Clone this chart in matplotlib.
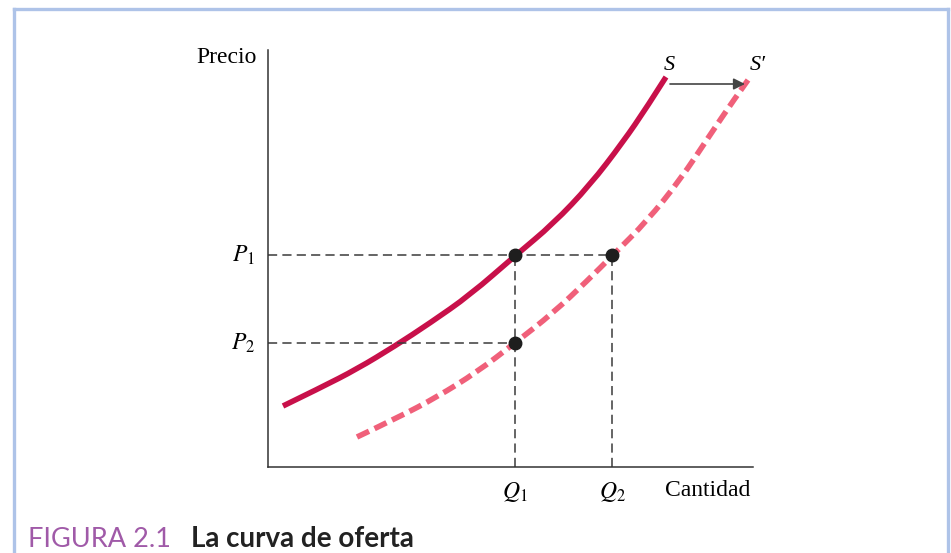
import matplotlib
matplotlib.use('Agg')
import matplotlib.pyplot as plt
from matplotlib.lines import Line2D
from matplotlib.path import Path
from matplotlib.patches import PathPatch

# Curve S (original supply)
s_q = [15, 52, 89, 127, 162, 202, 248, 285, 322, 355, 379, 398]
s_p = [61, 79, 98, 121, 144, 172, 212, 243, 282, 325, 360, 390]

# Curve S' (shifted supply)
s2_q = [89, 129, 169, 209, 247, 285, 319, 345, 379, 412, 442, 465, 480]
s2_p = [30, 49, 70, 95, 124, 154, 186, 212, 246, 287, 332, 366, 387]

# Equilibrium levels
p_levels = [212, 124]
p_labels = ['$P_1$', '$P_2$']
q_levels = [247, 344]
q_labels = ['$Q_1$', '$Q_2$']

# Intersection points (q, p)
dots_q = [247, 344, 247]
dots_p = [212, 212, 124]


def smooth_path(xs, ys):
    # quadratic bezier through the midpoints, read points act as control points
    pts = list(zip(xs, ys))
    verts = [pts[0]]
    codes = [Path.MOVETO]
    for i in range(1, len(pts) - 1):
        mid = ((pts[i][0] + pts[i + 1][0]) / 2, (pts[i][1] + pts[i + 1][1]) / 2)
        if i == len(pts) - 2:
            mid = pts[-1]
        verts += [pts[i], mid]
        codes += [Path.CURVE3, Path.CURVE3]
    return Path(verts, codes)


plt.rcParams['mathtext.fontset'] = 'stix'
serif = 'Liberation Serif'

fig = plt.figure(figsize=(9.51, 5.53), dpi=100)
ax = fig.add_axes([268 / 951, 86 / 553, 485 / 951, 417 / 553])
ax.set_xlim(0, 485)
ax.set_ylim(0, 417)

# dashed guides
guide = dict(color='#3a3a3a', lw=1.1, dashes=(6, 3.4))
ax.plot([0, q_levels[1]], [p_levels[0], p_levels[0]], **guide)
ax.plot([0, q_levels[0]], [p_levels[1], p_levels[1]], **guide)
ax.plot([q_levels[0], q_levels[0]], [0, p_levels[0]], **guide)
ax.plot([q_levels[1], q_levels[1]], [0, p_levels[0]], **guide)

# supply curves
ax.add_patch(PathPatch(smooth_path(s_q, s_p), fill=False, edgecolor='#c8104a',
                       lw=4.0, capstyle='butt', joinstyle='round'))
ax.add_patch(PathPatch(smooth_path(s2_q, s2_p), fill=False, edgecolor='#f0607a',
                       lw=4.0, linestyle=(0, (2.4, 1.1)), capstyle='butt'))

ax.plot(dots_q, dots_p, 'o', color='#1e1e1e', ms=9, zorder=5)

# shift arrow
ax.annotate('', xy=(477, 383), xytext=(402, 383),
            arrowprops=dict(arrowstyle='-|>', color='#444444', lw=1.2,
                            mutation_scale=17, shrinkA=0, shrinkB=0))

ax.text(401, 402, 'S', fontsize=16, family=serif, style='italic', ha='center', va='center')
ax.text(490, 402, "S\u2032", fontsize=16, family=serif, style='italic', ha='center', va='center')

for p, lab in zip(p_levels, p_labels):
    ax.text(-13, p, lab, fontsize=17, ha='right', va='center')
for q, lab in zip(q_levels, q_labels):
    ax.text(q, -25, lab, fontsize=17, ha='center', va='center')

ax.text(-11, 410, 'Precio', fontsize=17, family=serif, ha='right', va='center')
ax.text(397, -24, 'Cantidad', fontsize=17, family=serif, ha='left', va='center')

ax.set_xticks([])
ax.set_yticks([])
for side in ['top', 'right']:
    ax.spines[side].set_visible(False)
for side in ['left', 'bottom']:
    ax.spines[side].set_color('#333333')
    ax.spines[side].set_linewidth(1.1)

# light blue frame
frame = dict(color='#aec3e8', lw=2.4, transform=fig.transFigure)
fig.add_artist(Line2D([13.5 / 951, 13.5 / 951], [0, 1 - 9 / 553], **frame))
fig.add_artist(Line2D([13.5 / 951, 947.5 / 951], [1 - 9 / 553, 1 - 9 / 553], **frame))
fig.add_artist(Line2D([947.5 / 951, 947.5 / 951], [0, 1 - 9 / 553], **frame))

fig.text(28 / 951, 1 / 553, 'FIGURA 2.1', fontsize=19.5, family='Lato', color='#a05aa8',
         va='bottom', ha='left')
fig.text(191 / 951, 1 / 553, 'La curva de oferta', fontsize=20, family='Lato', color='#222222',
         weight='bold', va='bottom', ha='left')

fig.savefig('out.png', dpi=100)
